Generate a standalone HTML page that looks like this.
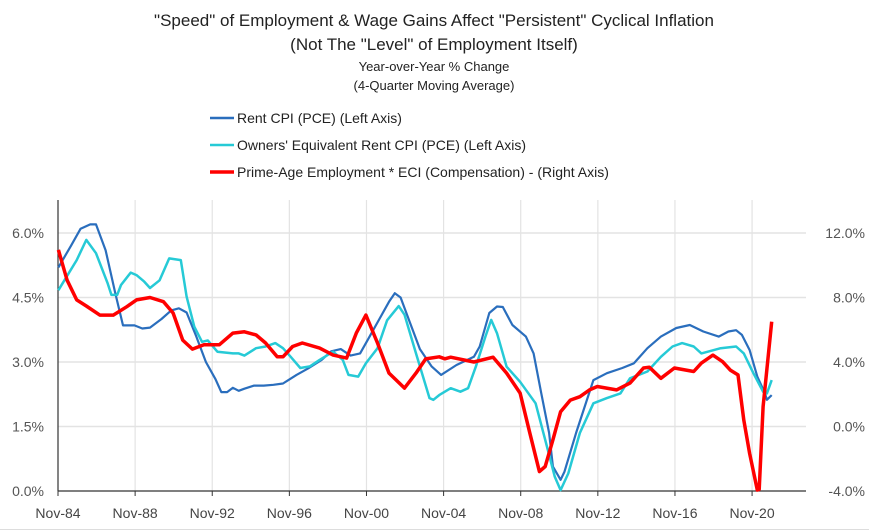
<!DOCTYPE html>
<html><head><meta charset="utf-8"><style>
body{margin:0;background:#fff;}
svg{display:block;font-family:"Liberation Sans",sans-serif;}
</style></head><body>
<svg id="chart" width="869" height="532" viewBox="0 0 869 532" xmlns="http://www.w3.org/2000/svg">
<text x="434" y="26" text-anchor="middle" font-size="17" fill="#222">"Speed" of Employment &amp; Wage Gains Affect "Persistent" Cyclical Inflation</text>
<text x="434" y="50" text-anchor="middle" font-size="17" fill="#222">(Not The "Level" of Employment Itself)</text>
<text x="434" y="71" text-anchor="middle" font-size="13" fill="#222">Year-over-Year % Change</text>
<text x="434" y="90" text-anchor="middle" font-size="13" fill="#222">(4-Quarter Moving Average)</text>
<g font-size="14" fill="#222">
<line x1="210" y1="118" x2="234" y2="118" stroke="#2a6ebd" stroke-width="2.5"/>
<text x="237" y="123">Rent CPI (PCE) (Left Axis)</text>
<line x1="210" y1="145" x2="234" y2="145" stroke="#26cad6" stroke-width="2.5"/>
<text x="237" y="150">Owners' Equivalent Rent CPI (PCE) (Left Axis)</text>
<line x1="210" y1="172" x2="234" y2="172" stroke="#ff0000" stroke-width="3.5"/>
<text x="237" y="177">Prime-Age Employment * ECI (Compensation) - (Right Axis)</text>
</g>
<g id="grid"></g>
<g id="axes"></g>
<g id="series"></g>
<line x1="0" y1="529.5" x2="869" y2="529.5" stroke="#ddd" stroke-width="1"/>
</svg>
<script>
const leftTicks=[0,1.5,3,4.5,6];
const leftTickLabels=["0.0%","1.5%","3.0%","4.5%","6.0%"];
const rightTicks=[-4,0,4,8,12];
const rightTickLabels=["-4.0%","0.0%","4.0%","8.0%","12.0%"];
const xTicks=[1984.83,1988.83,1992.83,1996.83,2000.83,2004.83,2008.83,2012.83,2016.83,2020.83];
const xTickLabels=["Nov-84","Nov-88","Nov-92","Nov-96","Nov-00","Nov-04","Nov-08","Nov-12","Nov-16","Nov-20"];

const rentDates=[1984.85,1985.5,1986,1986.5,1986.8,1987.3,1987.8,1988.2,1988.8,1989.2,1989.6,1990.2,1990.7,1991.1,1991.5,1992,1992.5,1993,1993.3,1993.6,1993.9,1994.2,1994.5,1995,1995.5,1996,1996.5,1997.2,1997.8,1998.5,1999,1999.5,2000,2000.5,2001,2001.5,2002,2002.3,2002.6,2003.1,2003.6,2004.2,2004.7,2005.5,2006.4,2006.7,2007.2,2007.6,2007.9,2008.4,2009.1,2009.5,2009.9,2010.3,2010.5,2010.9,2011.1,2011.7,2012.6,2013.3,2014.1,2014.7,2015.4,2016.1,2016.9,2017.6,2018.3,2019.1,2019.6,2020.0,2020.3,2020.7,2021.1,2021.5,2021.6,2021.85];
const rentValues=[5.2,5.7,6.1,6.2,6.2,5.6,4.6,3.85,3.85,3.78,3.8,4.0,4.2,4.25,4.15,3.6,3.0,2.6,2.3,2.3,2.4,2.33,2.38,2.45,2.45,2.47,2.5,2.7,2.85,3.05,3.25,3.3,3.15,3.2,3.6,4.0,4.4,4.6,4.5,3.9,3.3,2.9,2.7,2.93,3.12,3.36,4.14,4.29,4.28,3.86,3.59,3.2,2.27,1.35,0.57,0.26,0.45,1.35,2.58,2.74,2.86,2.97,3.32,3.59,3.79,3.86,3.71,3.59,3.71,3.74,3.63,3.28,2.66,2.27,2.12,2.23];

const oerDates=[1984.85,1985.8,1986.3,1986.8,1987.4,1987.6,1987.9,1988.1,1988.6,1988.9,1989.3,1989.6,1990.1,1990.6,1991.2,1991.5,1991.9,1992.3,1992.6,1993.1,1993.9,1994.2,1994.5,1995.1,1995.6,1996.1,1996.5,1996.9,1997.4,1997.9,1998.4,1999.1,1999.6,1999.9,2000.4,2000.8,2001.4,2001.9,2002.5,2002.8,2003.4,2004.1,2004.3,2004.6,2005.2,2005.7,2006.1,2006.5,2007.0,2007.3,2007.6,2008.1,2008.8,2009.6,2010.1,2010.6,2010.9,2011.3,2011.9,2012.6,2013.3,2014.0,2014.5,2015.4,2016.1,2016.7,2017.2,2017.8,2018.2,2019.2,2020.0,2020.4,2020.9,2021.4,2021.6,2021.85];
const oerValues=[4.67,5.37,5.84,5.53,4.84,4.56,4.56,4.79,5.08,5.02,4.87,4.72,4.9,5.41,5.37,4.52,3.82,3.47,3.5,3.24,3.2,3.2,3.15,3.32,3.36,3.44,3.32,3.12,2.86,2.9,3.05,3.24,3.05,2.7,2.66,2.97,3.32,3.97,4.3,4.1,3.2,2.16,2.12,2.23,2.39,2.31,2.39,2.89,3.59,3.98,3.67,2.89,2.54,2.04,1.19,0.33,0.02,0.41,1.35,2.04,2.16,2.27,2.62,2.78,3.12,3.36,3.44,3.36,3.2,3.32,3.36,3.2,2.74,2.31,2.27,2.58];

const empDates=[1984.85,1985.3,1985.8,1986.3,1987.0,1987.7,1988.4,1988.9,1989.6,1990.3,1990.8,1991.3,1991.8,1992.4,1993.2,1993.9,1994.5,1995.1,1995.6,1996.2,1996.5,1997.0,1997.5,1998.4,1999.1,1999.8,2000.3,2000.8,2001.4,2002.0,2002.8,2003.4,2003.9,2004.6,2004.9,2005.2,2006.4,2007.4,2008.1,2008.8,2009.3,2009.8,2010.1,2010.5,2010.9,2011.4,2011.9,2012.4,2012.8,2013.8,2014.5,2015.2,2015.5,2016.1,2016.8,2017.8,2018.2,2018.8,2019.3,2019.7,2020.1,2020.4,2020.7,2021.1,2021.2,2021.4,2021.85];
const empValues=[10.95,9.07,7.85,7.47,6.91,6.91,7.43,7.85,8.0,7.74,7.04,5.36,4.8,5.07,5.07,5.79,5.87,5.68,5.18,4.32,4.32,4.96,5.18,4.86,4.43,4.24,5.79,6.91,5.18,3.31,2.38,3.31,4.19,4.32,4.2,4.3,4.0,4.3,3.31,2.07,-0.4,-2.8,-2.48,-0.83,0.92,1.64,1.85,2.27,2.48,2.27,2.69,3.63,3.68,2.99,3.63,3.41,3.93,4.43,4.02,3.5,3.2,0.4,-1.66,-3.94,-3.9,1.23,6.5];

const NS="http://www.w3.org/2000/svg";
const X0=58,X1=806,Y0=491,Y1=200;
const pxPerYear=19.28;
function xs(d){return X0+(d-1984.83)*pxPerYear;}
function yl(v){return Y0-v*43;}
function yr(v){return Y0-(v+4)*16.125;}
function mk(tag,attrs,parent){const e=document.createElementNS(NS,tag);for(const k in attrs)e.setAttribute(k,attrs[k]);parent.appendChild(e);return e;}
const grid=document.getElementById('grid'),axes=document.getElementById('axes'),ser=document.getElementById('series');
leftTicks.forEach((t,i)=>{
  if(t>0){const g=mk('line',{x1:X0,x2:X1,y1:yl(t),y2:yl(t),stroke:'#e3e3e3','stroke-width':1.5},grid);
  
  }
  const tx=mk('text',{x:44,y:yl(t)+5,'text-anchor':'end','font-size':14,fill:'#555'},axes);
  tx.textContent=leftTickLabels[i];
  
  
});
rightTicks.forEach((t,i)=>{
  const tx=mk('text',{x:865,y:yr(t)+5,'text-anchor':'end','font-size':14,fill:'#555'},axes);
  tx.textContent=rightTickLabels[i];
  
  
});
xTicks.forEach((t,i)=>{
  const x=xs(t);
  if(i>0){const g=mk('line',{x1:x,x2:x,y1:Y1,y2:Y0,stroke:'#e3e3e3','stroke-width':1.2},grid);
  
  }
  const tk=mk('line',{x1:x,x2:x,y1:Y0,y2:Y0+5,stroke:'#333','stroke-width':1},axes);
  
  
  const tx=mk('text',{x:x,y:518,'text-anchor':'middle','font-size':14,fill:'#444'},axes);
  tx.textContent=xTickLabels[i];
  
  
});
const ya=mk('line',{x1:X0,x2:X0,y1:Y1,y2:Y0,stroke:'#333','stroke-width':1.2},axes);


const xa=mk('line',{x1:X0,x2:X1,y1:Y0,y2:Y0,stroke:'#333','stroke-width':1.2},axes);


function path(dates,vals,yf){return dates.map((d,i)=>(i?'L':'M')+xs(d).toFixed(1)+','+yf(vals[i]).toFixed(1)).join('');}
const p1=mk('path',{d:path(rentDates,rentValues,yl),fill:'none',stroke:'#2a6ebd','stroke-width':2.2,'stroke-linejoin':'round'},ser);


const p2=mk('path',{d:path(oerDates,oerValues,yl),fill:'none',stroke:'#26cad6','stroke-width':2.5,'stroke-linejoin':'round'},ser);


const p3=mk('path',{d:path(empDates,empValues,yr),fill:'none',stroke:'#ff0000','stroke-width':3.5,'stroke-linejoin':'round'},ser);


</script>
</body></html>
